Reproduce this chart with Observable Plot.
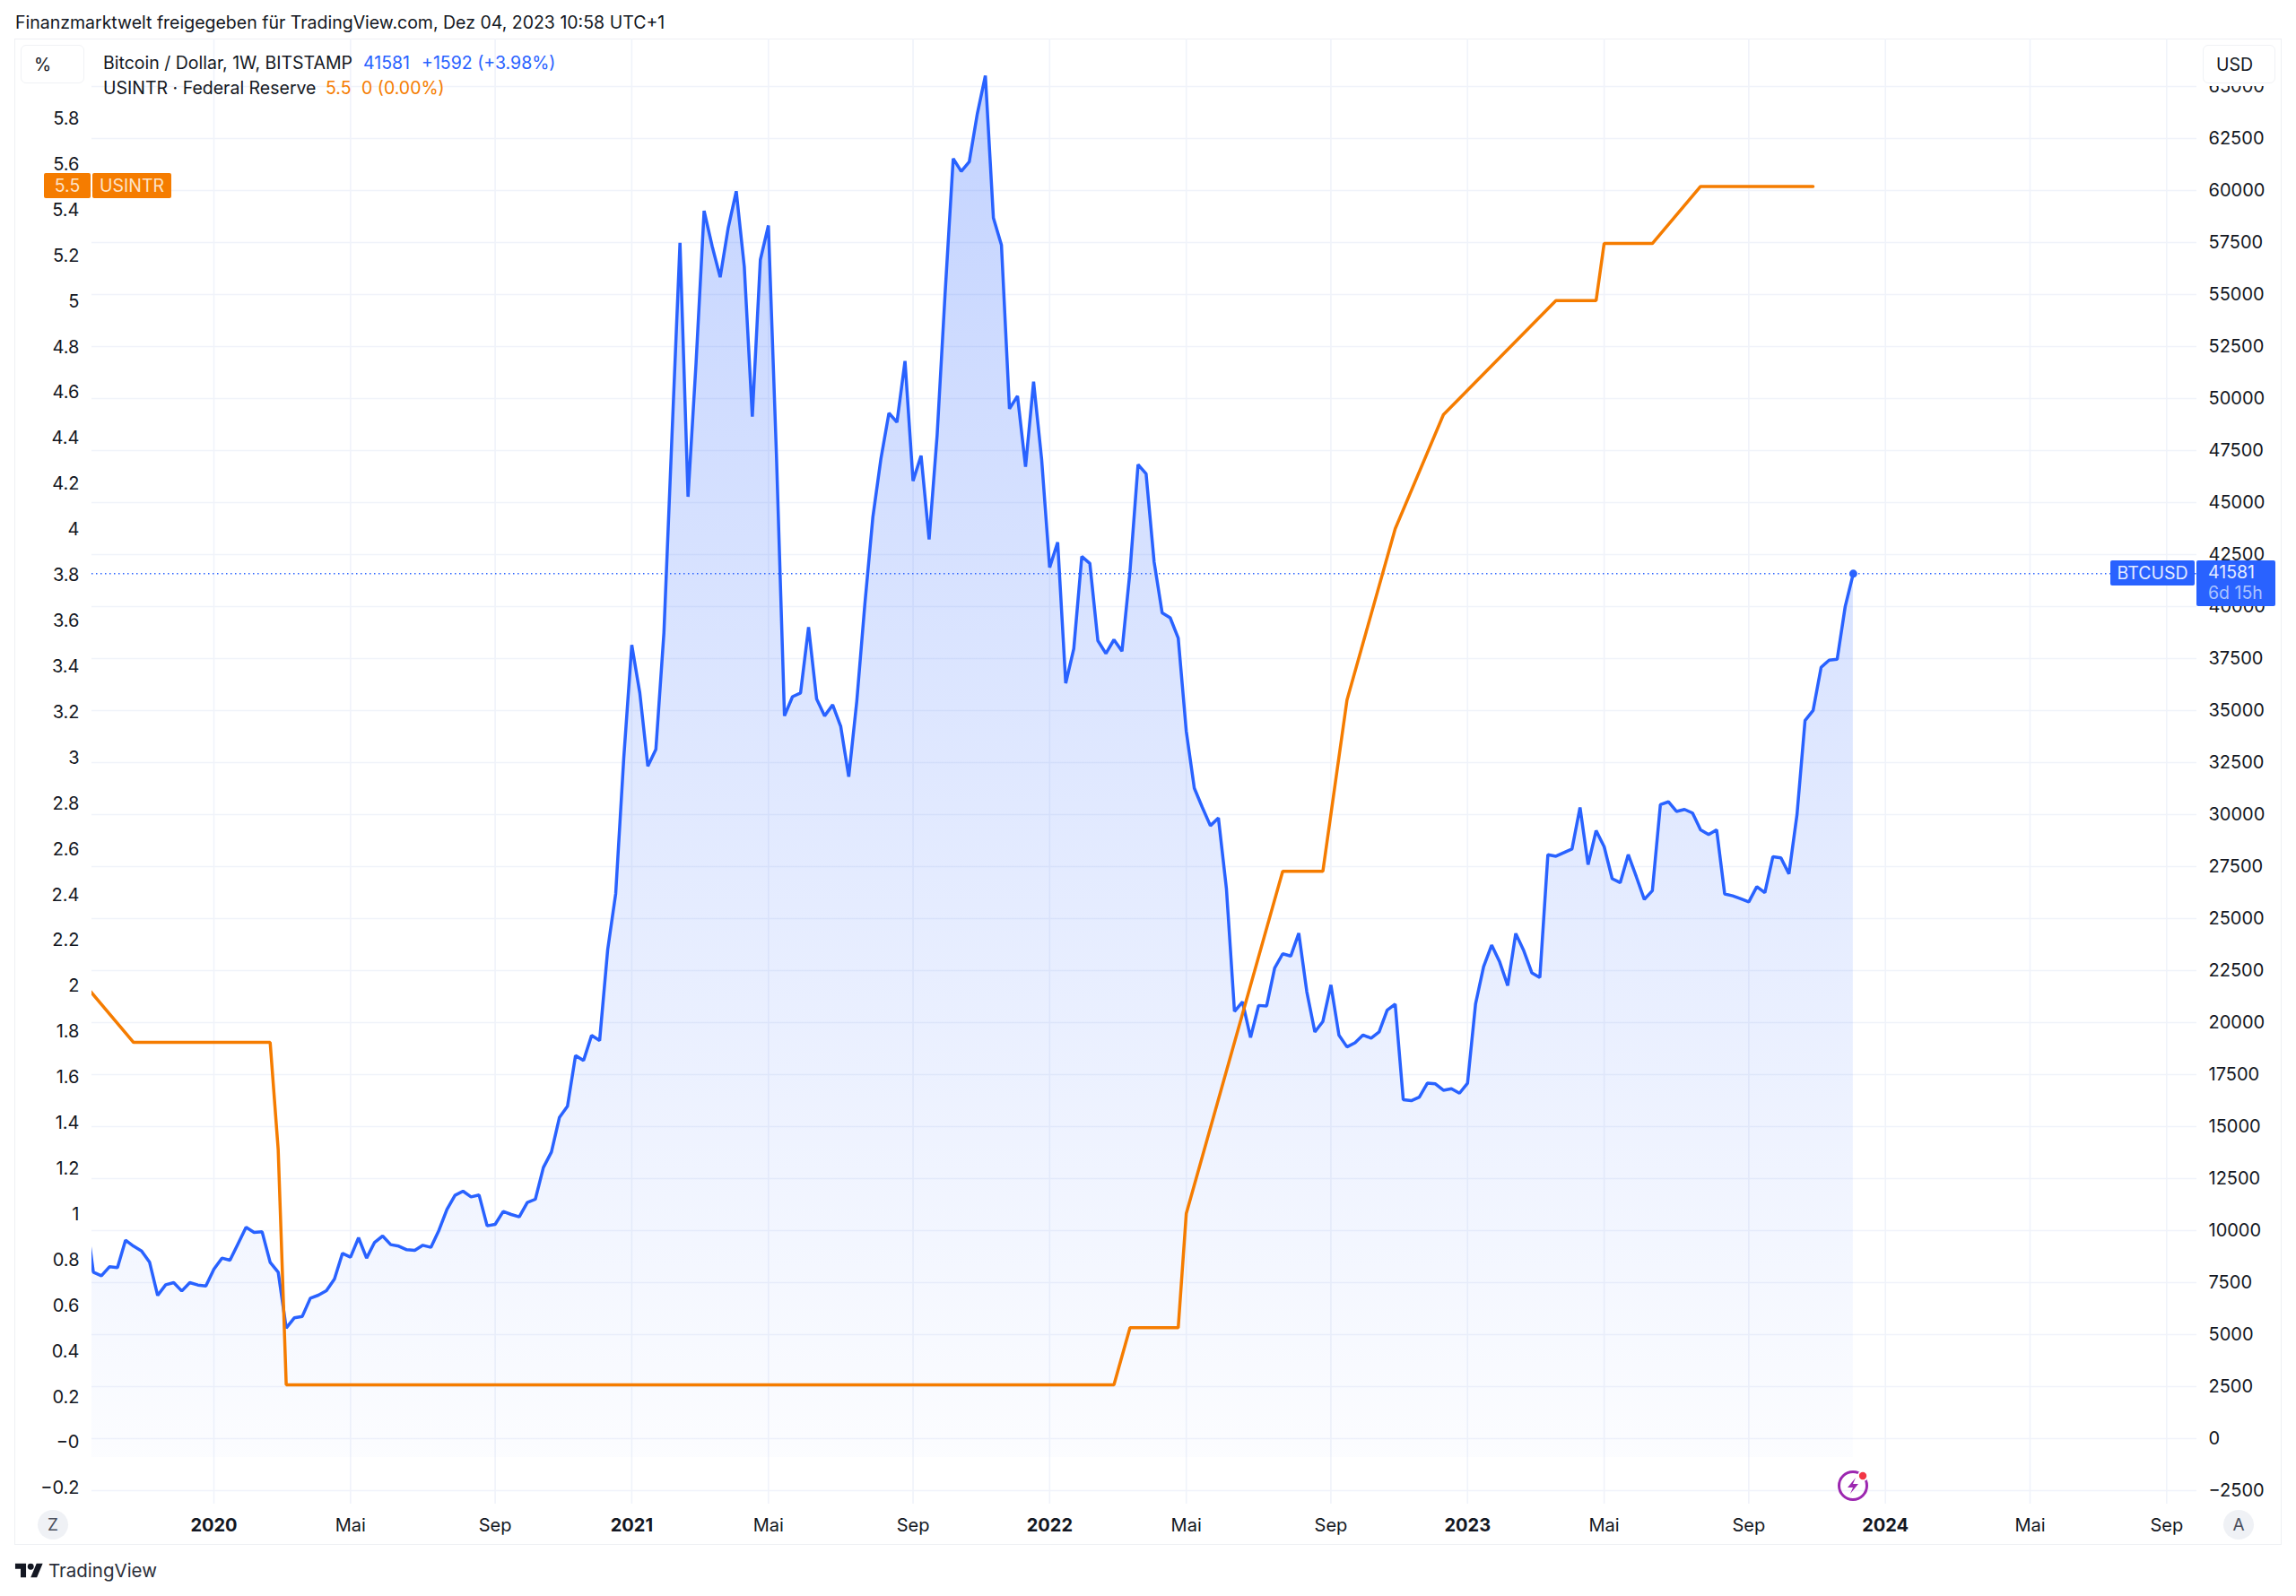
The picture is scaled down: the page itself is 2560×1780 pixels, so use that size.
<!DOCTYPE html>
<html lang="de">
<head>
<meta charset="utf-8">
<script src="https://cdn.jsdelivr.net/npm/d3@7"></script>
<script src="https://cdn.jsdelivr.net/npm/@observablehq/plot@0.6"></script>
<style>
  html,body{margin:0;padding:0;background:#fff;}
  #page{position:relative;width:2560px;height:1780px;overflow:hidden;font-family:Inter,sans-serif;color:#131722;font-size:19.5px;}
  #page svg{font-family:Inter,sans-serif;}
  .abs{position:absolute;white-space:nowrap;line-height:1;}
  .tag{position:absolute;white-space:nowrap;display:flex;align-items:center;box-sizing:border-box;border-radius:2px;}
  .chip{position:absolute;box-sizing:border-box;background:#fff;border:1.5px solid #f0f2f5;border-radius:6px;display:flex;align-items:center;justify-content:flex-start;padding-left:14px;}
  .round{position:absolute;background:#eff1f5;border-radius:50%;color:#4a4f5c;display:flex;align-items:center;justify-content:center;}
</style>
</head>
<body>
<div id="page"></div>
<script>
// BTC/USD weekly closes, first week starts 2019-09-16
const btcStart = Date.UTC(2019, 8, 16);
const btcClose = [
 10876,8003,7830,8261,8218,9540,9253,9023,8476,6882,7399,7500,7097,7500,7385,7342,
 8146,8678,8577,9368,10158,9913,9942,8476,8003,5316,5804,5876,6752,6896,7112,7672,
 8908,8722,9655,8678,9439,9741,9325,9253,9080,9052,9296,9195,10014,11020,11695,11896,
 11623,11710,10230,10302,10920,10776,10661,11350,11508,13031,13778,15445,15977,18419,18175,19382,
 19138,23500,26200,32700,38153,35844,32326,33140,38747,48200,57482,45278,51721,59022,57328,55833,
 58208,59967,56339,49126,56669,58318,47300,34745,35668,35844,39010,35558,34745,35273,34239,31820,
 35448,40100,44300,47100,49300,48860,51800,46040,47250,43230,48250,55117,61538,60923,61384,63693,
 65518,58680,57382,49510,50125,46717,50807,47091,41879,43089,36315,37964,42407,42077,38361,37745,
 38405,37855,41703,46827,46387,42143,39702,39460,38487,34012,31269,30346,29466,29840,26431,20538,
 20999,19285,20824,20802,22627,23308,23198,24299,21484,19549,20054,21813,19395,18830,19030,19405,
 19250,19550,20595,20893,16296,16245,16420,17085,17054,16748,16819,16605,17085,20900,22686,23725,
 22917,21781,24283,23456,22397,22166,28074,27997,28170,28343,30345,27593,29229,28459,26919,26727,
 28074,27016,25919,26342,30479,30614,30152,30248,30075,29267,29036,29267,26188,26092,25957,25803,
 26534,26246,27978,27920,27150,29998,34520,35001,37080,37426,37465,40005,41581
];
// USINTR: the points where the Fed-rate line changes direction
const fedDates = ["2019-09-16","2019-10-28","2020-02-24","2020-03-02","2020-03-09","2022-02-28","2022-03-14","2022-04-25","2022-05-02","2022-07-25","2022-08-29","2022-09-19","2022-10-31","2022-12-12","2023-03-20","2023-04-24","2023-05-01","2023-06-12","2023-07-24","2023-10-30"];
const fedRates = [2.0,1.75,1.75,1.28,0.25,0.25,0.5,0.5,1.0,2.5,2.5,3.25,4.0,4.5,5.0,5.0,5.25,5.25,5.5,5.5];
const usdTicks = d3.range(-2500, 65001, 2500);
const pctTicks = [-0.2,0,0.2,0.4,0.6,0.8,1,1.2,1.4,1.6,1.8,2,2.2,2.4,2.6,2.8,3,3.2,3.4,3.6,3.8,4,4.2,4.4,4.6,4.8,5,5.2,5.4,5.6,5.8];
const yearTicks = ["2020-01-06","2021-01-04","2022-01-03","2023-01-02","2024-01-01"].map(d => new Date(d));
const monthTicks = ["2020-05-04","2020-09-07","2021-05-03","2021-09-06","2022-05-02","2022-09-05","2023-05-01","2023-09-04","2024-05-06","2024-09-02"].map(d => new Date(d));
const xDomain = [new Date("2019-09-21T18:00Z"), new Date("2024-09-28T08:00Z")];
const yDomain = [-3147, 67284];
const areaFloor = -905;

// the left (percent) axis shares the same vertical scale through this mapping
const pctToUsd = p => -155 + 10973 * p;
const usdToPct = u => (u + 155) / 10973;
const pctLabel = u => {
  const p = Math.round(usdToPct(u) * 10) / 10;
  if (p === 0) return "\u22120";
  return p < 0 ? "\u2212" + Math.abs(p) : String(p);
};

const btc = btcClose.map((close, i) => ({date: new Date(btcStart + i * 7 * 864e5), close}));
const fed = fedDates.map((d, i) => ({date: new Date(d), usd: pctToUsd(fedRates[i])}));
const last = btc[btc.length - 1];

const BLUE = "#2962ff", ORANGE = "#f57c00", GRID = "#f0f3fa", INK = "#131722";

const plot = Plot.plot({
  width: 2528, height: 1680,
  marginLeft: 86, marginRight: 95, marginTop: 0, marginBottom: 46,
  style: {fontFamily: "Inter, sans-serif", fontSize: "20px", color: INK, background: "transparent", overflow: "visible"},
  x: {type: "utc", domain: xDomain, label: null},
  y: {domain: yDomain, label: null},
  marks: [
    () => {
      const defs = d3.create("svg:defs");
      const g = defs.append("linearGradient").attr("id", "btcFade").attr("x1", 0).attr("x2", 0).attr("y1", 0).attr("y2", 1);
      g.append("stop").attr("offset", "0%").attr("stop-color", BLUE).attr("stop-opacity", 0.28);
      g.append("stop").attr("offset", "100%").attr("stop-color", BLUE).attr("stop-opacity", 0.015);
      return defs.node();
    },
    Plot.gridY(usdTicks, {stroke: GRID, strokeOpacity: 1, strokeWidth: 1.6}),
    Plot.gridX([...yearTicks, ...monthTicks], {stroke: GRID, strokeOpacity: 1, strokeWidth: 1.6}),
    Plot.areaY(btc, {x: "date", y1: areaFloor, y2: "close", fill: "url(#btcFade)", clip: true}),
    Plot.ruleY([last.close], {stroke: BLUE, strokeWidth: 1.5, strokeDasharray: "1.5 3.5"}),
    Plot.line(btc, {x: "date", y: "close", stroke: BLUE, strokeWidth: 3.5, strokeLinejoin: "miter", clip: true}),
    Plot.line(fed, {x: "date", y: "usd", stroke: ORANGE, strokeWidth: 3.5, strokeLinejoin: "miter", clip: true}),
    Plot.dot([last], {x: "date", y: "close", r: 4.5, fill: BLUE}),
    Plot.axisY(usdTicks, {anchor: "right", tickSize: 0, tickPadding: 13, label: null, fill: INK, fontVariant: "normal",
      tickFormat: d => d < 0 ? "\u2212" + Math.abs(d) : String(d)}),
    Plot.axisY(pctTicks.map(pctToUsd), {anchor: "left", tickSize: 0, tickPadding: 14, dy: 1, label: null, fill: INK, fontVariant: "normal", tickFormat: pctLabel}),
    Plot.axisX(yearTicks, {anchor: "bottom", tickSize: 0, tickPadding: 16, label: null, fill: INK, fontWeight: 700, fontVariant: "normal", tickFormat: d => String(d.getUTCFullYear())}),
    Plot.axisX(monthTicks, {anchor: "bottom", tickSize: 0, tickPadding: 16, label: null, fill: INK, fontVariant: "normal", tickFormat: d => d.getUTCMonth() === 4 ? "Mai" : "Sep"})
  ]
});

const page = document.getElementById("page");
const FRAME_L = 16, FRAME_T = 43, FRAME_W = 2528, FRAME_H = 1680;

function el(cls, css, html) {
  const d = document.createElement("div");
  d.className = cls; d.style.cssText = css;
  if (html != null) d.innerHTML = html;
  page.appendChild(d);
  return d;
}
// frame + chart
el("abs", `left:${FRAME_L}px;top:${FRAME_T}px;width:${FRAME_W}px;height:${FRAME_H}px;box-sizing:border-box;border:1.5px solid #eef0f3;`);
plot.style.position = "absolute";
plot.style.left = FRAME_L + "px";
plot.style.top = FRAME_T + "px";
page.appendChild(plot);

const sx = v => plot.scale("x").apply(v) + FRAME_L;
const sy = v => plot.scale("y").apply(v) + FRAME_T;

// header
el("abs", "left:17px;top:16px;", "Finanzmarktwelt freigegeben für TradingView.com, Dez 04, 2023 10:58 UTC+1");

// corner chips; the right one also hides the top of the 65000 label, as in the reference
el("abs", "left:2452px;top:50px;width:90px;height:45.5px;background:#fff;");
el("chip", "left:23px;top:50px;width:71px;height:43px;", "%");
el("chip", "left:2456px;top:50px;width:81px;height:43px;", "USD");

// legend
el("abs", "left:115px;top:61px;", "Bitcoin / Dollar, 1W, BITSTAMP");
el("abs", `left:405px;top:61px;color:${BLUE};`, "41581");
el("abs", `left:470px;top:61px;color:${BLUE};`, "+1592 (+3.98%)");
el("abs", "left:115px;top:89px;", "USINTR · Federal Reserve");
el("abs", `left:363px;top:89px;color:${ORANGE};`, "5.5");
el("abs", `left:403px;top:89px;color:${ORANGE};`, "0 (0.00%)");

// USINTR tag on the left axis
const fedY = sy(pctToUsd(fedRates[fedRates.length - 1]));
el("tag", `left:49px;top:${fedY - 14}px;width:52px;height:28px;background:${ORANGE};color:#fde3c8;justify-content:center;`, "5.5");
el("tag", `left:103px;top:${fedY - 14}px;width:88px;height:28px;background:${ORANGE};color:#fde3c8;justify-content:center;`, "USINTR");

// BTCUSD tag on the right axis
const btcY = sy(last.close);
el("tag", `left:2353px;top:${btcY - 14}px;width:94px;height:28px;background:${BLUE};color:#e3ebff;justify-content:center;`, "BTCUSD");
el("tag", `left:2449px;top:${btcY - 14}px;width:88px;height:51px;background:${BLUE};`);
el("abs", `left:2462px;top:${btcY - 10}px;color:#e3ebff;`, "41581");
el("abs", `left:2462px;top:${btcY + 13}px;color:#a9c2ff;`, "6d 15h");

// lightning badge at the latest bar
const bx = sx(last.date);
el("abs", `left:${bx - 20}px;top:1637px;width:40px;height:40px;`,
  `<svg width="40" height="40" viewBox="0 0 40 40" fill="none">
     <circle cx="20" cy="20" r="15.5" stroke="#9c27b0" stroke-width="3"/>
     <path d="M23 11 L14 22 H20 L17 29 L26 18 H20 Z" fill="#9c27b0"/>
     <circle cx="31" cy="9" r="6" fill="#fff"/>
     <circle cx="31" cy="9" r="4.2" fill="#f23645"/>
   </svg>`);

// axis corner buttons
el("round", "left:42px;top:1684px;width:34px;height:33px;font-size:19px;", "Z");
el("round", "left:2479px;top:1684px;width:34px;height:33px;font-size:19px;", "A");

// footer logo
el("abs", "left:16px;top:1742px;width:33px;height:20px;",
  `<svg width="33" height="19" viewBox="0 0 36 22" fill="${INK}"><path d="M14 20H7V9H0V2h14v18zM28 20h-8l7.5-18h8L28 20z"/><circle cx="20" cy="6" r="4"/></svg>`);
el("abs", "left:54px;top:1742px;font-size:20.5px;color:#2a2e39;", "TradingView");
</script>
</body>
</html>
